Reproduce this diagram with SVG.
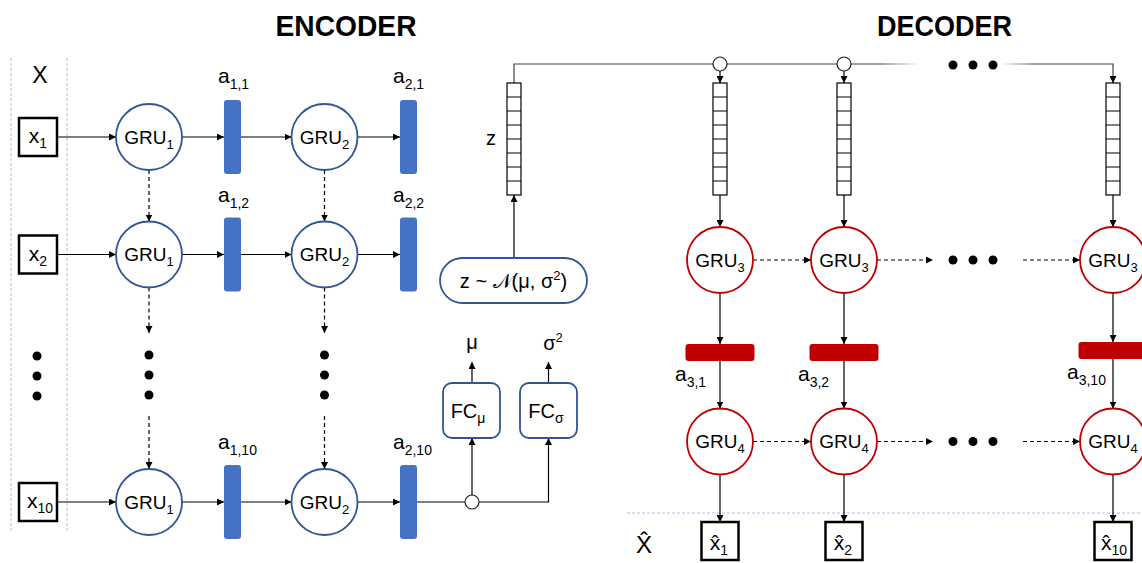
<svg xmlns="http://www.w3.org/2000/svg" width="1142" height="563" viewBox="0 0 1142 563">
<style>
text{font-family:"Liberation Sans",Arial,sans-serif;fill:#000}
.title{font-size:30px;font-weight:bold}
.gru{font-size:19px}
.sub{font-size:13px}
.lab{font-size:21px}
.lsub{font-size:14px}
.enc{fill:#fff;stroke:#2F5597;stroke-width:1.8}
.dec{fill:#fff;stroke:#C00000;stroke-width:1.8}
.bar{fill:#4472C4}
.rbar{fill:#C00000}
.io{fill:#fff;stroke:#000;stroke-width:2.5}
.vec{fill:#fff;stroke:#000;stroke-width:1.2}
.ln{fill:none;stroke:#000;stroke-width:1.2}
.dl{fill:none;stroke:#000;stroke-width:1.2;stroke-dasharray:4 3}
.sep{fill:none;stroke:#A9C0E6;stroke-width:1;stroke-dasharray:3 2}
.dot{fill:#000}
.jn{fill:#fff;stroke:#222;stroke-width:1.2}
</style>
<defs>
<marker id="ah" viewBox="0 0 10 10" refX="10" refY="5" markerWidth="7" markerHeight="7" markerUnits="userSpaceOnUse" orient="auto"><path d="M0,0 L10,5 L0,10 z" fill="#000"/></marker>
<linearGradient id="fade" gradientUnits="userSpaceOnUse" x1="880" y1="0" x2="1035" y2="0">
<stop offset="0" stop-color="#444" stop-opacity="1"/>
<stop offset="0.26" stop-color="#444" stop-opacity="0"/>
<stop offset="0.77" stop-color="#444" stop-opacity="0"/>
<stop offset="1" stop-color="#444" stop-opacity="1"/>
</linearGradient>
<g id="zvec"><rect class="vec" x="0" y="0" width="14" height="112"/><path class="ln" d="M0,14h14M0,28h14M0,42h14M0,56h14M0,70h14M0,84h14M0,98h14"/></g>
</defs>
<rect width="1142" height="563" fill="#fff"/>

<g id="separators">
<line class="sep" x1="11" y1="58" x2="11" y2="533"/>
<line class="sep" x1="67" y1="58" x2="67" y2="533"/>
<line class="sep" x1="627" y1="513" x2="1142" y2="513"/>
</g>

<text class="title" x="346" y="36" text-anchor="middle" textLength="141" lengthAdjust="spacingAndGlyphs">ENCODER</text>
<text class="title" x="944.5" y="36" text-anchor="middle" textLength="135" lengthAdjust="spacingAndGlyphs">DECODER</text>
<text x="40" y="83" text-anchor="middle" font-size="23">X</text>
<text x="644" y="553" text-anchor="middle" font-size="24">X̂</text>

<g id="connectors">
<line class="ln" x1="58" y1="137" x2="116" y2="137" marker-end="url(#ah)"/>
<line class="ln" x1="182" y1="137" x2="224" y2="137" marker-end="url(#ah)"/>
<line class="ln" x1="241" y1="137" x2="291.5" y2="137" marker-end="url(#ah)"/>
<line class="ln" x1="357.5" y1="137" x2="400" y2="137" marker-end="url(#ah)"/>
<line class="ln" x1="58" y1="254.5" x2="116" y2="254.5" marker-end="url(#ah)"/>
<line class="ln" x1="182" y1="254.5" x2="224" y2="254.5" marker-end="url(#ah)"/>
<line class="ln" x1="241" y1="254.5" x2="291.5" y2="254.5" marker-end="url(#ah)"/>
<line class="ln" x1="357.5" y1="254.5" x2="400" y2="254.5" marker-end="url(#ah)"/>
<line class="ln" x1="58" y1="502" x2="116" y2="502" marker-end="url(#ah)"/>
<line class="ln" x1="182" y1="502" x2="224" y2="502" marker-end="url(#ah)"/>
<line class="ln" x1="241" y1="502" x2="291.5" y2="502" marker-end="url(#ah)"/>
<line class="ln" x1="357.5" y1="502" x2="400" y2="502" marker-end="url(#ah)"/>
<line class="ln" x1="417" y1="502" x2="465" y2="502"/>
<line class="dl" x1="149" y1="170" x2="149" y2="221.5" marker-end="url(#ah)"/>
<line class="dl" x1="149" y1="287.5" x2="149" y2="333" marker-end="url(#ah)"/>
<line class="dl" x1="149" y1="416" x2="149" y2="469" marker-end="url(#ah)"/>
<line class="dl" x1="324.5" y1="170" x2="324.5" y2="221.5" marker-end="url(#ah)"/>
<line class="dl" x1="324.5" y1="287.5" x2="324.5" y2="333" marker-end="url(#ah)"/>
<line class="dl" x1="324.5" y1="416" x2="324.5" y2="469" marker-end="url(#ah)"/>
<line class="ln" x1="472" y1="495" x2="472" y2="438" marker-end="url(#ah)"/>
<polyline class="ln" points="479,502 548.5,502 548.5,438" marker-end="url(#ah)"/>
<line class="ln" x1="472" y1="383" x2="472" y2="362" marker-end="url(#ah)"/>
<line class="ln" x1="548.5" y1="383" x2="548.5" y2="362" marker-end="url(#ah)"/>
<line class="ln" x1="514" y1="258" x2="514" y2="195" marker-end="url(#ah)"/>
<polyline fill="none" stroke="#444" stroke-width="1.2" points="514,83 514,64 880,64"/>
<line stroke="url(#fade)" stroke-width="1.2" x1="880" y1="64" x2="1035" y2="64"/>
<polyline fill="none" stroke="#444" stroke-width="1.2" points="1035,64 1113,64 1113,83" marker-end="url(#ah)"/>
<line class="ln" x1="720" y1="71" x2="720" y2="83" marker-end="url(#ah)"/>
<line class="ln" x1="844" y1="71" x2="844" y2="83" marker-end="url(#ah)"/>
<line class="ln" x1="720" y1="195" x2="720" y2="227" marker-end="url(#ah)"/>
<line class="ln" x1="720" y1="293" x2="720" y2="344" marker-end="url(#ah)"/>
<line class="ln" x1="720" y1="361" x2="720" y2="408.5" marker-end="url(#ah)"/>
<line class="ln" x1="720" y1="474.5" x2="720" y2="522" marker-end="url(#ah)"/>
<line class="ln" x1="844" y1="195" x2="844" y2="227" marker-end="url(#ah)"/>
<line class="ln" x1="844" y1="293" x2="844" y2="344" marker-end="url(#ah)"/>
<line class="ln" x1="844" y1="361" x2="844" y2="408.5" marker-end="url(#ah)"/>
<line class="ln" x1="844" y1="474.5" x2="844" y2="522" marker-end="url(#ah)"/>
<line class="ln" x1="1113" y1="195" x2="1113" y2="227" marker-end="url(#ah)"/>
<line class="ln" x1="1113" y1="293" x2="1113" y2="342" marker-end="url(#ah)"/>
<line class="ln" x1="1113" y1="359" x2="1113" y2="408.5" marker-end="url(#ah)"/>
<line class="ln" x1="1113" y1="474.5" x2="1113" y2="522" marker-end="url(#ah)"/>
<line class="dl" x1="753" y1="260" x2="811" y2="260" marker-end="url(#ah)"/>
<line class="dl" x1="877" y1="260" x2="933" y2="260" marker-end="url(#ah)"/>
<line class="dl" x1="1023" y1="260" x2="1080" y2="260" marker-end="url(#ah)"/>
<line class="dl" x1="753" y1="441.5" x2="811" y2="441.5" marker-end="url(#ah)"/>
<line class="dl" x1="877" y1="441.5" x2="933" y2="441.5" marker-end="url(#ah)"/>
<line class="dl" x1="1023" y1="441.5" x2="1080" y2="441.5" marker-end="url(#ah)"/>
</g>

<g id="dots">
<circle class="dot" cx="37" cy="356" r="4.5"/><circle class="dot" cx="37" cy="376" r="4.5"/><circle class="dot" cx="37" cy="396" r="4.5"/>
<circle class="dot" cx="149" cy="355" r="4.5"/><circle class="dot" cx="149" cy="375" r="4.5"/><circle class="dot" cx="149" cy="395" r="4.5"/>
<circle class="dot" cx="324.5" cy="355" r="4.5"/><circle class="dot" cx="324.5" cy="375" r="4.5"/><circle class="dot" cx="324.5" cy="395" r="4.5"/>
<circle class="dot" cx="953" cy="65" r="4.5"/><circle class="dot" cx="973" cy="65" r="4.5"/><circle class="dot" cx="993" cy="65" r="4.5"/>
<circle class="dot" cx="953" cy="260" r="4.5"/><circle class="dot" cx="973" cy="260" r="4.5"/><circle class="dot" cx="993" cy="260" r="4.5"/>
<circle class="dot" cx="953" cy="441.5" r="4.5"/><circle class="dot" cx="973" cy="441.5" r="4.5"/><circle class="dot" cx="993" cy="441.5" r="4.5"/>
</g>

<g id="x1"><rect class="io" x="19" y="118" width="38" height="38"/><text class="lab" x="38" y="143" text-anchor="middle">x<tspan class="lsub" dy="5">1</tspan></text></g>
<g id="x2"><rect class="io" x="19" y="235.5" width="38" height="38"/><text class="lab" x="38" y="260.5" text-anchor="middle">x<tspan class="lsub" dy="5">2</tspan></text></g>
<g id="x10"><rect class="io" x="19" y="483" width="38" height="38"/><text class="lab" x="40" y="508" text-anchor="middle">x<tspan class="lsub" dy="5">10</tspan></text></g>

<g id="gru1_1"><circle class="enc" cx="149" cy="137" r="33"/><text class="gru" x="149" y="143.5" text-anchor="middle">GRU<tspan class="sub" dy="5">1</tspan></text></g>
<g id="gru2_1"><circle class="enc" cx="324.5" cy="137" r="33"/><text class="gru" x="324.5" y="143.5" text-anchor="middle">GRU<tspan class="sub" dy="5">2</tspan></text></g>
<g id="gru1_2"><circle class="enc" cx="149" cy="254.5" r="33"/><text class="gru" x="149" y="261" text-anchor="middle">GRU<tspan class="sub" dy="5">1</tspan></text></g>
<g id="gru2_2"><circle class="enc" cx="324.5" cy="254.5" r="33"/><text class="gru" x="324.5" y="261" text-anchor="middle">GRU<tspan class="sub" dy="5">2</tspan></text></g>
<g id="gru1_10"><circle class="enc" cx="149" cy="502" r="33"/><text class="gru" x="149" y="508.5" text-anchor="middle">GRU<tspan class="sub" dy="5">1</tspan></text></g>
<g id="gru2_10"><circle class="enc" cx="324.5" cy="502" r="33"/><text class="gru" x="324.5" y="508.5" text-anchor="middle">GRU<tspan class="sub" dy="5">2</tspan></text></g>

<g id="a1_1"><rect class="bar" x="224" y="100" width="17" height="74" rx="3"/><text class="lab" x="218" y="83">a<tspan class="lsub" dy="6">1,1</tspan></text></g>
<g id="a2_1"><rect class="bar" x="400" y="100" width="17" height="74" rx="3"/><text class="lab" x="393" y="83">a<tspan class="lsub" dy="6">2,1</tspan></text></g>
<g id="a1_2"><rect class="bar" x="224" y="217.5" width="17" height="74" rx="3"/><text class="lab" x="218" y="202">a<tspan class="lsub" dy="6">1,2</tspan></text></g>
<g id="a2_2"><rect class="bar" x="400" y="217.5" width="17" height="74" rx="3"/><text class="lab" x="393" y="202">a<tspan class="lsub" dy="6">2,2</tspan></text></g>
<g id="a1_10"><rect class="bar" x="224" y="465" width="17" height="74" rx="3"/><text class="lab" x="218" y="449">a<tspan class="lsub" dy="6">1,10</tspan></text></g>
<g id="a2_10"><rect class="bar" x="400" y="465" width="17" height="74" rx="3"/><text class="lab" x="393" y="449">a<tspan class="lsub" dy="6">2,10</tspan></text></g>

<g id="junction"><circle class="jn" cx="472" cy="502" r="7"/></g>

<g id="fc_mu"><rect class="enc" x="443" y="383" width="57" height="55" rx="9"/><text x="468" y="418" font-size="20" text-anchor="middle">FC<tspan font-size="14" dy="5">μ</tspan></text><text x="472" y="349" font-size="20" text-anchor="middle">μ</text></g>
<g id="fc_sigma"><rect class="enc" x="520" y="383" width="57" height="55" rx="9"/><text x="546" y="418" font-size="20" text-anchor="middle">FC<tspan font-size="14" dy="5">σ</tspan></text><text x="553" y="350" font-size="20" text-anchor="middle">σ<tspan font-size="13" dy="-8">2</tspan></text></g>

<g id="sample"><rect class="enc" x="440" y="258" width="147" height="45" rx="22.5" stroke-width="1.5"/><text x="513.5" y="288" font-size="20" text-anchor="middle">z ~ 𝒩(μ, σ<tspan font-size="13" dy="-8">2</tspan><tspan dy="8">)</tspan></text></g>

<g id="z"><use href="#zvec" x="507" y="83"/><text x="491" y="145" font-size="20" text-anchor="middle">z</text></g>
<g id="bc1"><circle class="jn" cx="720" cy="64" r="7"/></g>
<g id="bc2"><circle class="jn" cx="844" cy="64" r="7"/></g>

<g id="z_1"><use href="#zvec" x="713" y="83"/></g>
<g id="gru3_1"><circle class="dec" cx="720" cy="260" r="33"/><text class="gru" x="720" y="266.5" text-anchor="middle">GRU<tspan class="sub" dy="5">3</tspan></text></g>
<g id="a3_1"><rect class="rbar" x="685.5" y="344" width="69" height="17" rx="3"/><text class="lab" x="675" y="381">a<tspan class="lsub" dy="6">3,1</tspan></text></g>
<g id="gru4_1"><circle class="dec" cx="720" cy="441.5" r="33"/><text class="gru" x="720" y="448" text-anchor="middle">GRU<tspan class="sub" dy="5">4</tspan></text></g>
<g id="xh1"><rect class="io" x="701.5" y="522" width="37" height="38"/><text class="lab" x="719" y="550" text-anchor="middle">x̂<tspan class="lsub" dy="5">1</tspan></text></g>

<g id="z_2"><use href="#zvec" x="837" y="83"/></g>
<g id="gru3_2"><circle class="dec" cx="844" cy="260" r="33"/><text class="gru" x="844" y="266.5" text-anchor="middle">GRU<tspan class="sub" dy="5">3</tspan></text></g>
<g id="a3_2"><rect class="rbar" x="809.5" y="344" width="69" height="17" rx="3"/><text class="lab" x="798" y="381">a<tspan class="lsub" dy="6">3,2</tspan></text></g>
<g id="gru4_2"><circle class="dec" cx="844" cy="441.5" r="33"/><text class="gru" x="844" y="448" text-anchor="middle">GRU<tspan class="sub" dy="5">4</tspan></text></g>
<g id="xh2"><rect class="io" x="825.5" y="522" width="37" height="38"/><text class="lab" x="843" y="550" text-anchor="middle">x̂<tspan class="lsub" dy="5">2</tspan></text></g>

<g id="z_10"><use href="#zvec" x="1106" y="83"/></g>
<g id="gru3_10"><circle class="dec" cx="1113" cy="260" r="33"/><text class="gru" x="1113" y="266.5" text-anchor="middle">GRU<tspan class="sub" dy="5">3</tspan></text></g>
<g id="a3_10"><rect class="rbar" x="1078.5" y="342" width="69" height="17" rx="3"/><text class="lab" x="1067" y="379">a<tspan class="lsub" dy="6">3,10</tspan></text></g>
<g id="gru4_10"><circle class="dec" cx="1113" cy="441.5" r="33"/><text class="gru" x="1113" y="448" text-anchor="middle">GRU<tspan class="sub" dy="5">4</tspan></text></g>
<g id="xh10"><rect class="io" x="1094.5" y="522" width="37" height="38"/><text class="lab" x="1114" y="550" text-anchor="middle">x̂<tspan class="lsub" dy="5">10</tspan></text></g>
</svg>
